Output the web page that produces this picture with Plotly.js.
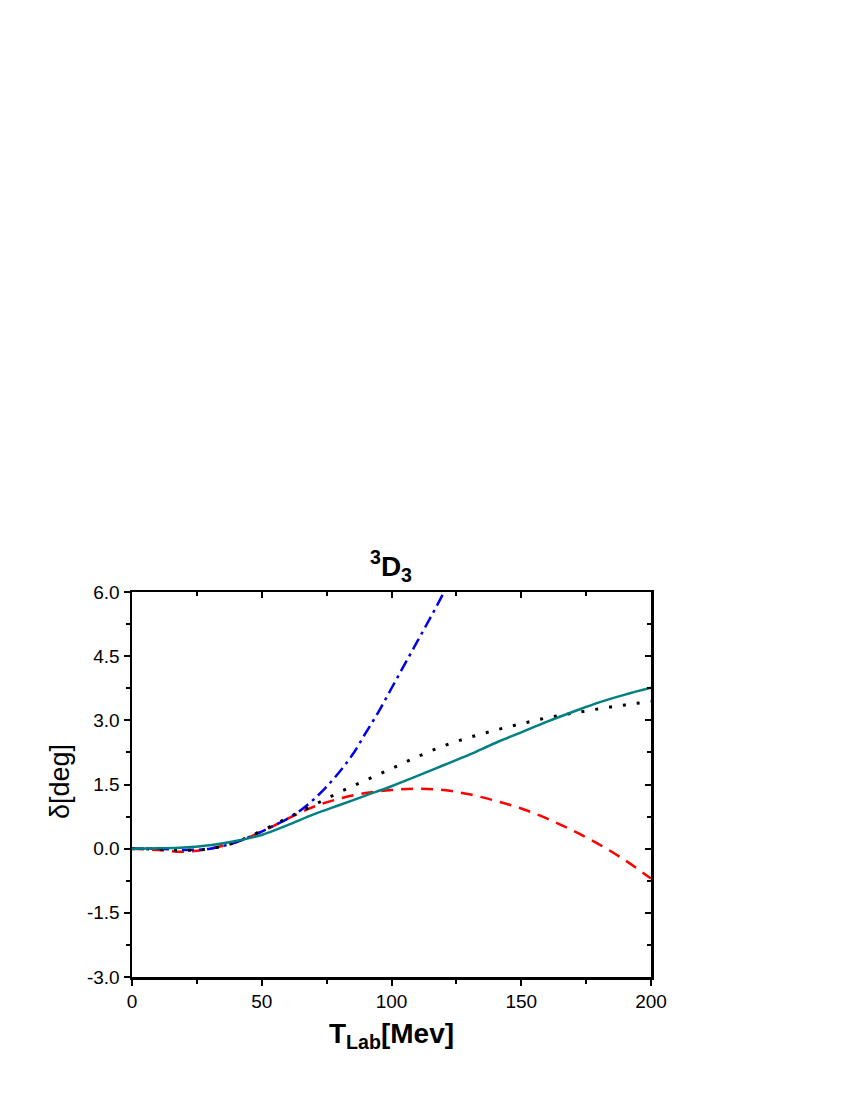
<!DOCTYPE html>
<html>
<head>
<meta charset="utf-8">
<script src="https://cdn.plot.ly/plotly-3.0.1.min.js"></script>
<style>body{margin:0;background:#fff;}</style>
</head>
<body>
<div id="myDiv" style="width:850px;height:1100px;"></div>
<script>
// energies (MeV)
let tLab = [0, 10, 20, 30, 40, 50, 60, 70, 80, 90, 100, 110, 120, 130, 140, 150, 160, 170, 180, 190, 200];

// phase shifts (deg)
let solido = [0, 0.01, 0.03, 0.08, 0.18, 0.32, 0.55, 0.8, 1.02, 1.24, 1.46, 1.7, 1.95, 2.2, 2.47, 2.72, 2.97, 3.2, 3.42, 3.6, 3.76];
let punteado = [0, -0.01, -0.04, 0.0, 0.15, 0.42, 0.72, 1.02, 1.32, 1.6, 1.87, 2.15, 2.4, 2.6, 2.77, 2.92, 3.06, 3.17, 3.27, 3.36, 3.44];
let rayado = [0, -0.03, -0.07, 0.0, 0.15, 0.4, 0.7, 0.98, 1.17, 1.3, 1.37, 1.4, 1.37, 1.27, 1.12, 0.94, 0.7, 0.42, 0.1, -0.27, -0.7];

let tLabAzul = [0, 10, 20, 30, 40, 50, 55, 60, 65, 70, 75, 80, 85, 90, 95, 100, 105, 110, 115, 120];
let azul = [0, 0, -0.03, 0, 0.15, 0.4, 0.55, 0.7, 0.9, 1.15, 1.45, 1.8, 2.2, 2.7, 3.2, 3.75, 4.3, 4.85, 5.4, 5.97];

let xTicks = [0, 50, 100, 150, 200];
let yTicks = [-3.0, -1.5, 0.0, 1.5, 3.0, 4.5, 6.0];

var data = [
    {
        x: tLab, y: rayado, type: 'scatter', mode: 'lines',
        line: {color: '#ff0000', width: 2.5, dash: '12px,8px', shape: 'spline'}
    },
    {
        x: tLabAzul, y: azul, type: 'scatter', mode: 'lines',
        line: {color: '#0000ee', width: 2.5, dash: '12px,5px,3px,5px', shape: 'spline'}
    },
    {
        x: tLab, y: punteado, type: 'scatter', mode: 'lines',
        line: {color: '#000000', width: 3, dash: '3px,11px', shape: 'spline'}
    },
    {
        x: tLab, y: solido, type: 'scatter', mode: 'lines',
        line: {color: '#008080', width: 2.5, shape: 'spline'}
    },
    // ejes espejo (ticks hacia adentro)
    {x: [0], y: [0], xaxis: 'x2', yaxis: 'y2', mode: 'none', hoverinfo: 'skip'}
];

var fuente = 'Liberation Sans, Arial, sans-serif';

function eje(extra) {
    return Object.assign({
        showgrid: false,
        zeroline: false,
        showline: true,
        linecolor: '#000',
        linewidth: 2.5,
        tickcolor: '#000',
        tickwidth: 2,
        ticklen: 6,
        tickfont: {family: fuente, size: 19, color: '#000'}
    }, extra);
}

var layout = {
    width: 850,
    height: 1100,
    showlegend: false,
    margin: {l: 132, r: 199, t: 592, b: 123},
    plot_bgcolor: '#fff',
    paper_bgcolor: '#fff',
    title: {
        text: '<b><sup>3</sup>D<sub>3</sub></b>',
        font: {family: fuente, size: 28, color: '#000'},
        x: (391 - 132) / (850 - 132 - 199), xref: 'paper', xanchor: 'center',
        y: 1 - 566 / 1100, yref: 'container', yanchor: 'middle'
    },
    xaxis: eje({
        range: [0, 200],
        tickmode: 'array', tickvals: xTicks, ticktext: xTicks.map(String),
        ticks: 'outside',
        minor: {dtick: 25, ticks: 'outside', ticklen: 4, tickwidth: 2, tickcolor: '#000'},
        title: {
            text: '<b>T<sub>Lab</sub>[Mev]</b>',
            font: {family: fuente, size: 28, color: '#000'},
            standoff: 12
        }
    }),
    yaxis: eje({
        range: [-3, 6],
        tickmode: 'array', tickvals: yTicks, ticktext: yTicks.map(v => v.toFixed(1)),
        ticks: 'outside',
        minor: {dtick: 0.75, ticks: 'outside', ticklen: 4, tickwidth: 2, tickcolor: '#000'}
    }),
    xaxis2: eje({
        overlaying: 'x', side: 'top', anchor: 'y2',
        range: [0, 200], tickmode: 'array', tickvals: xTicks, showticklabels: false,
        ticks: 'inside',
        minor: {dtick: 25, ticks: 'inside', ticklen: 4, tickwidth: 2, tickcolor: '#000'}
    }),
    yaxis2: eje({
        overlaying: 'y', side: 'right', anchor: 'x2',
        range: [-3, 6], tickmode: 'array', tickvals: yTicks, showticklabels: false,
        ticks: 'inside',
        minor: {dtick: 0.75, ticks: 'inside', ticklen: 4, tickwidth: 2, tickcolor: '#000'}
    }),
    annotations: [
        {
            text: 'δ[deg]', textangle: -90, showarrow: false,
            xref: 'paper', yref: 'paper',
            x: (60 - 132) / 519, y: (977 - 782) / 385,
            xanchor: 'center', yanchor: 'middle',
            font: {family: fuente, size: 27, color: '#000'}
        }
    ]
};

Plotly.newPlot('myDiv', data, layout, {staticPlot: true});
</script>
</body>
</html>
